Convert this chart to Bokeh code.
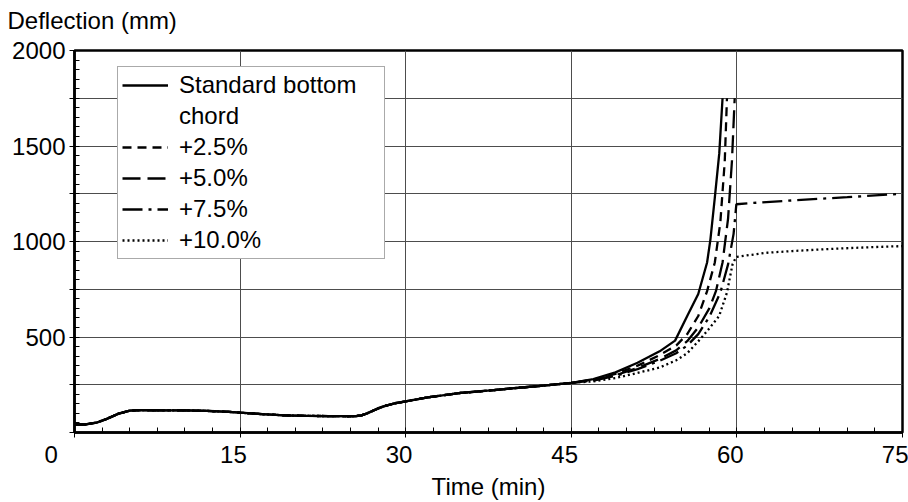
from bokeh.plotting import figure
from bokeh.models import (Range1d, Legend, LegendItem, SingleIntervalTicker, FixedTicker, Title)
from bokeh.embed import file_html
from bokeh.resources import INLINE

# ---- data ----
t_common = [0, 1, 2, 2.5, 3, 4, 5, 6, 8, 10, 12, 14, 15, 17, 19, 21, 23, 25, 25.5, 26,
            26.5, 27, 27.5, 28, 29, 30, 32, 35, 38, 40, 42, 45]
d_common = [42, 42, 52, 62, 73, 99, 114, 117, 116, 116, 113, 108, 104, 96, 90, 87, 86, 85, 86, 90,
            100, 113, 126, 137, 153, 163, 184, 207, 222, 233, 243, 260]

t_std = [47, 49, 51, 53, 54.4, 55.5, 56.5, 57.3, 57.6, 58.0, 58.4, 58.7]
d_std = [280, 315, 365, 425, 481, 610, 725, 890, 1010, 1230, 1460, 1750]

t_p25 = [47, 49, 51, 53, 54.5, 55.5, 56.5, 57.3, 58.0, 58.5, 58.9, 59.1]
d_p25 = [277, 307, 350, 405, 455, 515, 610, 740, 890, 1100, 1420, 1750]

t_p50 = [47, 49, 51, 53, 54.5, 55.5, 56.5, 57.5, 58.1, 58.7, 59.2, 59.55, 59.8]
d_p50 = [274, 300, 338, 385, 430, 478, 550, 650, 740, 890, 1120, 1420, 1750]

t_p75 = [47, 49, 51, 53, 54.5, 55.5, 56.5, 57.5, 58.5, 59.2, 59.7, 59.95, 61, 65, 70, 75]
d_p75 = [272, 296, 332, 375, 415, 455, 515, 605, 733, 880, 1040, 1195, 1200, 1215, 1232, 1250]

t_p100 = [47, 49, 51, 53, 54.5, 55.5, 56.7, 57.5, 58.4, 59.1, 59.6, 59.9, 60, 62.7, 65, 68.8, 72, 75]
d_p100 = [268, 285, 312, 340, 378, 415, 490, 545, 611, 733, 880, 915, 920, 941, 950, 962, 970, 976]

series_labels = ["Standard bottom", "chord", "+2.5%", "+5.0%", "+7.5%", "+10.0%"]
x_tick_vals = [0, 15, 30, 45, 60, 75]
x_tick_labels = ["0", "15", "30", "45", "60", "75"]
y_unlabelled_ticks = [0, 250, 750, 1250, 1750]

FONT = "Liberation Sans"
FS = "24px"
NB = "\u00a0"

p = figure(width=908, height=502, output_backend="svg", toolbar_location=None,
           x_range=Range1d(0, 75), y_range=Range1d(0, 2000),
           min_border_left=74, min_border_right=6, min_border_top=50, min_border_bottom=68)
p.background_fill_color = "white"
p.border_fill_color = "white"
p.outline_line_color = "black"
p.outline_line_width = 2.5

# caption at top-left: a small blank spacer panel next to the frame, caption above it
p.title_location = None
spacer = Title(text=NB, text_font_size="10px", standoff=2, text_color="white")
caption = Title(text="Deflection (mm)", align="left", vertical_align="top", offset=-67,
                standoff=0, text_font=FONT, text_font_size=FS, text_font_style="normal",
                text_color="black")
p.add_layout(spacer, "above")
p.add_layout(caption, "above")

# grids
p.xgrid.ticker = FixedTicker(ticks=[15, 30, 45, 60])
p.ygrid.ticker = SingleIntervalTicker(interval=250)
for g in (p.xgrid, p.ygrid):
    g.grid_line_color = "#4d4d4d"
    g.grid_line_width = 1

# axes
p.xaxis.ticker = SingleIntervalTicker(interval=15, num_minor_ticks=6)
p.yaxis.ticker = SingleIntervalTicker(interval=250, num_minor_ticks=5)
# labels sit a little left of their ticks in the reference (trailing no-break spaces)
pad = [7, 2, 2, 2, 2, 0]
p.xaxis.major_label_overrides = {v: s + NB * n for v, s, n in zip(x_tick_vals, x_tick_labels, pad)}
p.yaxis.major_label_overrides = {v: "" for v in y_unlabelled_ticks}
for ax in (p.xaxis, p.yaxis):
    ax.axis_line_width = 2.5
    ax.axis_line_color = "black"
    ax.major_tick_in = 0
    ax.major_tick_out = 5
    ax.minor_tick_in = 5
    ax.minor_tick_out = 0
    ax.major_tick_line_color = "black"
    ax.minor_tick_line_color = "black"
    ax.major_label_text_font = FONT
    ax.major_label_text_font_size = FS
    ax.major_label_text_color = "black"
    ax.axis_label_text_font = FONT
    ax.axis_label_text_font_size = FS
    ax.axis_label_text_font_style = "normal"
    ax.axis_label_text_color = "black"
p.yaxis.major_label_standoff = 4
p.xaxis.major_label_standoff = 3
p.xaxis.axis_label = "Time (min)"
p.xaxis.axis_label_standoff = 2

LW = 2.3
r_std = p.line(t_common + t_std, d_common + d_std, line_color="black", line_width=LW)
r_chord = p.line(t_common + t_std, d_common + d_std, line_color="black", line_alpha=0, line_width=LW)
r_25 = p.line(t_common + t_p25, d_common + d_p25, line_color="black", line_width=LW, line_dash="9 6")
r_50 = p.line(t_common + t_p50, d_common + d_p50, line_color="black", line_width=LW, line_dash="18 7")
r_75 = p.line(t_common + t_p75, d_common + d_p75, line_color="black", line_width=LW, line_dash="20 6 3 6")
r_100 = p.line(t_common + t_p100, d_common + d_p100, line_color="black", line_width=LW, line_dash="2 3")

renderers = [r_std, r_chord, r_25, r_50, r_75, r_100]
legend = Legend(items=[LegendItem(label=lab, renderers=[r]) for lab, r in zip(series_labels, renderers)],
                location=(43, 173), padding=4, spacing=3, margin=0,
                glyph_width=46, glyph_height=20, label_standoff=11,
                label_width=201, label_height=25,
                label_text_font=FONT, label_text_font_size=FS, label_text_color="black",
                border_line_color="#555555", border_line_width=1,
                background_fill_color="white", background_fill_alpha=1)
p.add_layout(legend)

open("out.html", "w").write(file_html(p, INLINE))
